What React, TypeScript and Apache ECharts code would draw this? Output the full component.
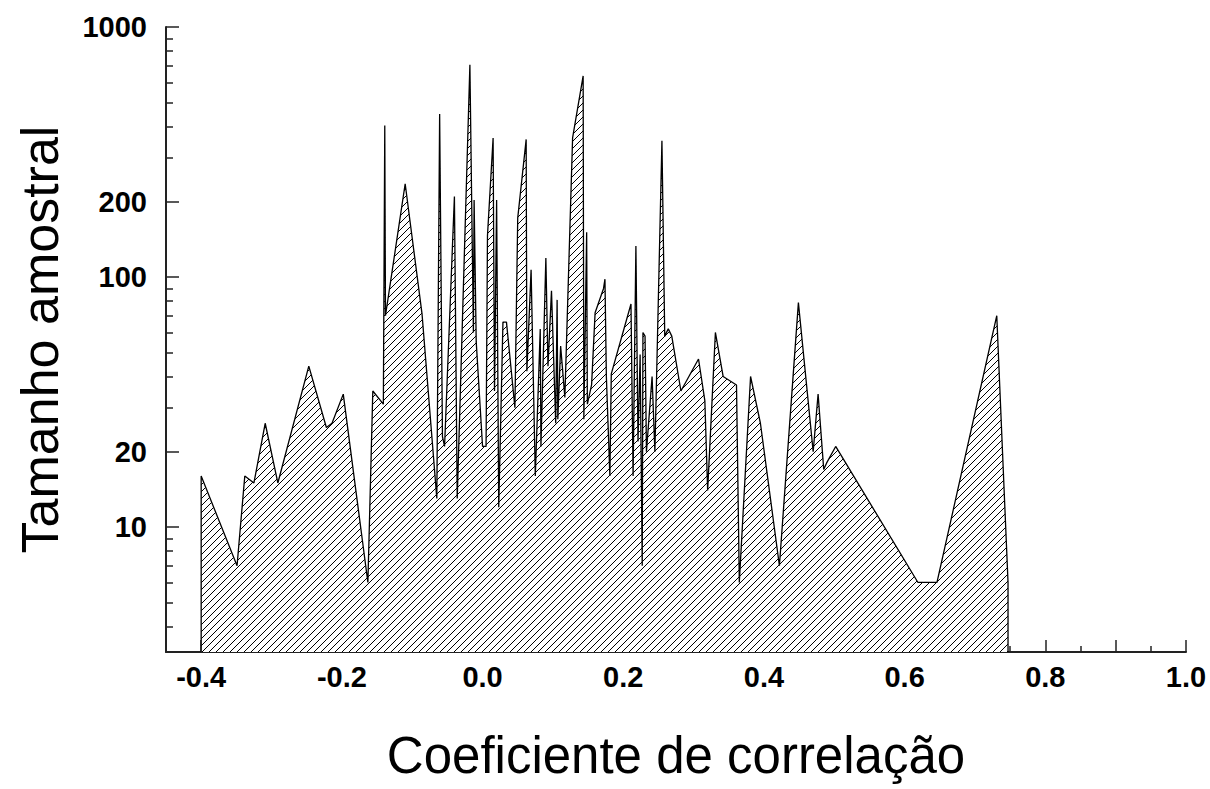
import React, { useEffect, useRef } from "react";
import * as echarts from "echarts";

// Correlation coefficient (x) and sample size (y), outline of the hatched area
const correlation = [
  -0.4, -0.4, -0.349, -0.338, -0.325, -0.309, -0.291, -0.247, -0.222, -0.214,
  -0.198, -0.163, -0.156, -0.141, -0.139, -0.138, -0.11, -0.086, -0.065, -0.061,
  -0.057, -0.054, -0.04, -0.036, -0.018, -0.013, -0.012, -0.009, 0.0, 0.005,
  0.007, 0.015, 0.017, 0.02, 0.023, 0.029, 0.034, 0.046, 0.05, 0.062,
  0.063, 0.069, 0.075, 0.082, 0.083, 0.09, 0.093, 0.098, 0.104, 0.106,
  0.107, 0.111, 0.117, 0.128, 0.143, 0.144, 0.148, 0.149, 0.155, 0.16,
  0.172, 0.174, 0.176, 0.181, 0.183, 0.211, 0.214, 0.218, 0.221, 0.224,
  0.227, 0.228, 0.231, 0.233, 0.241, 0.245, 0.255, 0.259, 0.264, 0.269,
  0.282, 0.307, 0.316, 0.32, 0.331, 0.342, 0.361, 0.365, 0.381, 0.395,
  0.422, 0.449, 0.47, 0.477, 0.485, 0.489, 0.502, 0.619, 0.646, 0.731,
  0.747, 0.747,
];
const sampleSize = [
  3.16, 16, 7, 16, 15, 26, 15, 44, 25, 26,
  34, 6, 35, 31, 404, 70, 236, 71, 13, 449,
  23, 21, 210, 13, 707, 60, 203, 55, 21, 21,
  146, 360, 35, 203, 12, 66, 66, 30, 172, 355,
  42, 107, 16, 62, 21, 119, 44, 88, 26, 81,
  27, 53, 33, 360, 637, 27, 151, 31, 37, 72,
  90, 98, 40, 16, 41, 78, 16, 133, 22, 49,
  7, 60, 58, 20, 40, 20, 351, 58, 62, 58,
  35, 47, 32, 14, 60, 40, 37, 6, 40, 26,
  7, 79, 20, 34, 17, 18, 21, 6, 6, 70,
  6, 3.16,
];

const yLabelTicks = [10, 20, 100, 200, 1000];
const yMinorTicks = [4, 5, 6, 7, 8, 9, 30, 40, 50, 60, 70, 80, 90, 300, 400, 500, 600, 700, 800, 900];
const xLabelTicks = [-0.4, -0.2, 0.0, 0.2, 0.4, 0.6, 0.8, 1.0];
const xMajorTicks = [-0.4, -0.3, -0.2, -0.1, 0.0, 0.1, 0.2, 0.3, 0.4, 0.5, 0.6, 0.7, 0.8, 0.9, 1.0];
const xMinorTicks = [-0.35, -0.25, -0.15, -0.05, 0.05, 0.15, 0.25, 0.35, 0.45, 0.55, 0.65, 0.75, 0.85, 0.95];

const Y_MIN = 3.1623;
const Y_MAX = 1000;
const X_MIN = -0.45;
const X_MAX = 1.0;

const FONT = "'Liberation Sans', Arial, Helvetica, sans-serif";
const AXIS_COLOR = "#222";

function makeHatch(): HTMLCanvasElement {
  const c = document.createElement("canvas");
  const s = 7;
  c.width = s;
  c.height = s;
  const ctx = c.getContext("2d")!;
  ctx.fillStyle = "#fff";
  ctx.fillRect(0, 0, s, s);
  ctx.strokeStyle = "#000";
  ctx.lineWidth = 1;
  ctx.beginPath();
  ctx.moveTo(-1, s + 1);
  ctx.lineTo(s + 1, -1);
  ctx.moveTo(-1, 1);
  ctx.lineTo(1, -1);
  ctx.moveTo(s - 1, s + 1);
  ctx.lineTo(s + 1, s - 1);
  ctx.stroke();
  return c;
}

export default function App() {
  const ref = useRef<HTMLDivElement>(null);

  useEffect(() => {
    document.body.style.margin = "0";
    if (!ref.current) return;
    const chart = echarts.init(ref.current, undefined, { renderer: "svg" });
    const hatch = makeHatch();

    const option: any = {
      animation: false,
      backgroundColor: "#fff",
      grid: { left: 166, right: 24, top: 27, bottom: 137, containLabel: false },
      xAxis: [
        {
          type: "value",
          position: "bottom",
          min: X_MIN,
          max: X_MAX,
          name: "Coeficiente de correlação",
          nameLocation: "middle",
          nameGap: 78,
          nameTextStyle: { fontFamily: FONT, fontSize: 51, color: "#000" },
          axisLine: { show: true, onZero: false, lineStyle: { color: AXIS_COLOR, width: 2 } },
          axisTick: {
            show: true,
            inside: true,
            length: 12,
            customValues: xMajorTicks,
            lineStyle: { color: AXIS_COLOR, width: 1.5 },
          },
          axisLabel: {
            show: true,
            customValues: xLabelTicks,
            margin: 10,
            fontFamily: FONT,
            fontSize: 29,
            fontWeight: "bold",
            color: "#000",
            formatter: (v: number) => v.toFixed(1),
          },
          splitLine: { show: false },
        },
        {
          type: "value",
          position: "bottom",
          min: X_MIN,
          max: X_MAX,
          axisLine: { show: false, onZero: false },
          axisTick: {
            show: true,
            inside: true,
            length: 6,
            customValues: xMinorTicks,
            lineStyle: { color: AXIS_COLOR, width: 1.5 },
          },
          axisLabel: { show: false },
          splitLine: { show: false },
        },
      ],
      yAxis: [
        {
          type: "log",
          logBase: 10,
          position: "left",
          min: Y_MIN,
          max: Y_MAX,
          name: "Tamanho amostral",
          nameLocation: "middle",
          nameGap: 100,
          nameRotate: 90,
          nameTextStyle: { fontFamily: FONT, fontSize: 52, color: "#000" },
          axisLine: { show: true, onZero: false, lineStyle: { color: AXIS_COLOR, width: 2 } },
          axisTick: {
            show: true,
            inside: true,
            length: 13,
            customValues: yLabelTicks,
            lineStyle: { color: AXIS_COLOR, width: 1.5 },
          },
          axisLabel: {
            show: true,
            customValues: yLabelTicks,
            margin: 19,
            fontFamily: FONT,
            fontSize: 29,
            fontWeight: "bold",
            color: "#000",
            formatter: (v: number) => String(Math.round(v)),
          },
          splitLine: { show: false },
        },
        {
          type: "log",
          logBase: 10,
          position: "left",
          min: Y_MIN,
          max: Y_MAX,
          axisLine: { show: false, onZero: false },
          axisTick: {
            show: true,
            inside: true,
            length: 7,
            customValues: yMinorTicks,
            lineStyle: { color: AXIS_COLOR, width: 1.5 },
          },
          axisLabel: { show: false },
          splitLine: { show: false },
        },
      ],
      series: [
        {
          type: "line",
          xAxisIndex: 0,
          yAxisIndex: 0,
          data: correlation.map((x, i) => [x, sampleSize[i]]),
          symbol: "none",
          clip: true,
          lineStyle: { color: "#000", width: 1.3 },
          areaStyle: {
            origin: "start",
            opacity: 1,
            color: { image: hatch, repeat: "repeat" },
          },
        },
      ],
    };

    chart.setOption(option);
    return () => chart.dispose();
  }, []);

  return (
    <div
      ref={ref}
      style={{ position: "absolute", left: 0, top: 0, width: 1210, height: 789 }}
    />
  );
}
